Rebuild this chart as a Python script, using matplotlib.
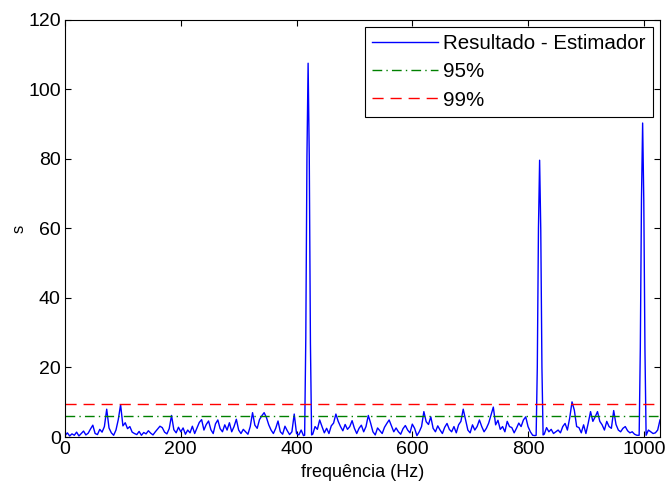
import numpy as np
import matplotlib
matplotlib.use("Agg")
import matplotlib.pyplot as plt

plt.rcParams['font.family'] = ['Liberation Sans', 'DejaVu Sans']

# estimator output, 4 Hz grid from 0 to 1028 Hz
freq_step = 4
noise = [
    0.4, 1.2, 0.3, 0.9, 0.5, 1.4, 0.3, 1.0, 1.7, 0.6,
    1.1, 2.3, 3.4, 1.0, 0.7, 2.2, 1.4, 3.0, 8.0, 2.6,
    1.2, 0.5, 2.0, 5.0, 9.3, 3.2, 4.1, 2.4, 3.0, 1.4,
    1.0, 0.7, 1.6, 0.5, 1.3, 0.9, 1.8, 1.1, 0.6, 1.5,
    2.3, 3.1, 2.7, 1.4, 0.9, 2.4, 6.2, 2.1, 1.2, 2.8,
    1.5, 2.6, 0.8, 2.0, 1.2, 3.1, 1.0, 2.6, 4.2, 5.0,
    2.0, 3.6, 4.6, 2.1, 1.0, 3.8, 4.9, 2.4, 1.5, 3.5,
    2.0, 4.1, 1.5, 3.0, 5.1, 2.0, 1.0, 2.2, 1.5, 0.8,
    3.0, 7.0, 3.4, 2.5, 5.0, 6.1, 7.0, 5.6, 3.5, 2.0,
    1.0, 2.5, 4.6, 1.5, 0.8, 3.1, 1.8, 0.7, 1.5, 6.6,
    1.0, 0.6, 2.0, 0.4, 0.5, 0.5, 0.5, 0.8, 3.0, 2.2,
    4.9, 3.0, 1.2, 2.5, 1.0, 3.2, 4.0, 6.6, 4.5, 3.0,
    1.8, 3.6, 2.2, 3.0, 4.7, 2.5, 1.0, 2.5, 3.4, 1.5,
    3.0, 6.2, 4.0, 1.5, 0.6, 2.6, 1.8, 1.0, 2.8, 3.9,
    4.9, 3.2, 1.5, 2.6, 1.5, 0.8, 2.4, 3.3, 2.0, 1.2,
    3.7, 2.5, 0.4, 1.5, 3.0, 7.3, 4.4, 3.6, 5.8, 2.5,
    1.5, 3.2, 2.0, 1.0, 2.8, 3.9, 2.2, 1.5, 3.0, 1.2,
    3.5, 4.5, 8.0, 5.0, 2.0, 1.2, 3.5, 2.0, 3.0, 4.9,
    3.0, 1.5, 2.5, 4.0, 6.3, 8.6, 3.5, 4.8, 2.2, 3.0,
    1.5, 4.5, 3.0, 2.7, 1.2, 2.5, 4.0, 3.0, 4.9, 5.8,
    3.0, 1.5, 0.5, 0.4, 0.5, 0.5, 0.5, 0.8, 2.7, 1.5,
    2.2, 1.0, 1.5, 2.0, 1.2, 3.0, 3.9, 2.0, 5.5, 10.1,
    7.7, 3.0, 2.7, 1.2, 3.5, 1.0, 4.0, 7.3, 4.5, 5.8,
    7.3, 4.5, 3.5, 2.0, 4.5, 3.0, 2.5, 7.6, 3.6, 2.0,
    1.5, 2.5, 3.0, 1.8, 1.2, 1.5, 0.8, 0.5, 0.5, 0.5,
    0.5, 1.5, 2.0, 1.5, 1.0, 1.2, 2.0, 4.9,
]

# the three tones, sampled on a 2 Hz grid
peak_freqs = [
    [414, 416, 418, 420, 422, 424, 426],
    [814, 816, 818, 820, 822, 824, 826],
    [992, 994, 996, 998, 1000, 1002, 1004],
]
peak_vals = [
    [0.5, 28.5, 80.7, 107.5, 80.5, 27.0, 0.6],
    [0.5, 20.0, 60.0, 79.6, 59.5, 20.0, 0.6],
    [0.5, 25.6, 68.5, 90.3, 68.0, 25.0, 0.5],
]

limiar_95 = 6.1
limiar_99 = 9.5

f = np.arange(len(noise)) * freq_step
s = np.array(noise)
keep = np.ones(len(f), dtype=bool)
for pf in peak_freqs:
    keep &= ~((f >= pf[0]) & (f <= pf[-1]))
f_all = np.concatenate([f[keep]] + [np.array(p) for p in peak_freqs])
s_all = np.concatenate([s[keep]] + [np.array(v) for v in peak_vals])
order = np.argsort(f_all)
f_all, s_all = f_all[order], s_all[order]

fig = plt.figure(figsize=(6.67, 4.88), dpi=100)
ax = fig.add_axes([0.0975, 0.1045, 0.892, 0.855])

ax.plot(f_all, s_all, color=(0, 0, 1), lw=1.0, label='Resultado - Estimador')
ax.plot([0, f[-1]], [limiar_95, limiar_95], color=(0, 0.5, 0), lw=1.0,
        dashes=(7, 3, 1, 3), label='95%')
ax.plot([0, f[-1]], [limiar_99, limiar_99], color=(1, 0, 0), lw=1.0,
        dashes=(8, 5), label='99%')

ax.set_xlim(0, f[-1])
ax.set_ylim(0, 120)
ax.set_xticks(range(0, 1001, 200))
ax.set_yticks(range(0, 121, 20))
ax.tick_params(direction='in', top=True, right=True, labelsize=14, length=4, pad=3)
for sp in ax.spines.values():
    sp.set_linewidth(0.8)
ax.set_xlabel('frequência (Hz)', fontsize=13, labelpad=4)
ax.set_ylabel('s', fontsize=12, labelpad=1)

leg = ax.legend(loc='upper right', fontsize=14.8, handlelength=3.2, handletextpad=0.25,
                borderaxespad=0.35, labelspacing=0.45, fancybox=False, framealpha=1,
                borderpad=0.35)
leg.get_frame().set_edgecolor('black')
leg.get_frame().set_linewidth(0.8)

fig.savefig('out.png', dpi=100)
